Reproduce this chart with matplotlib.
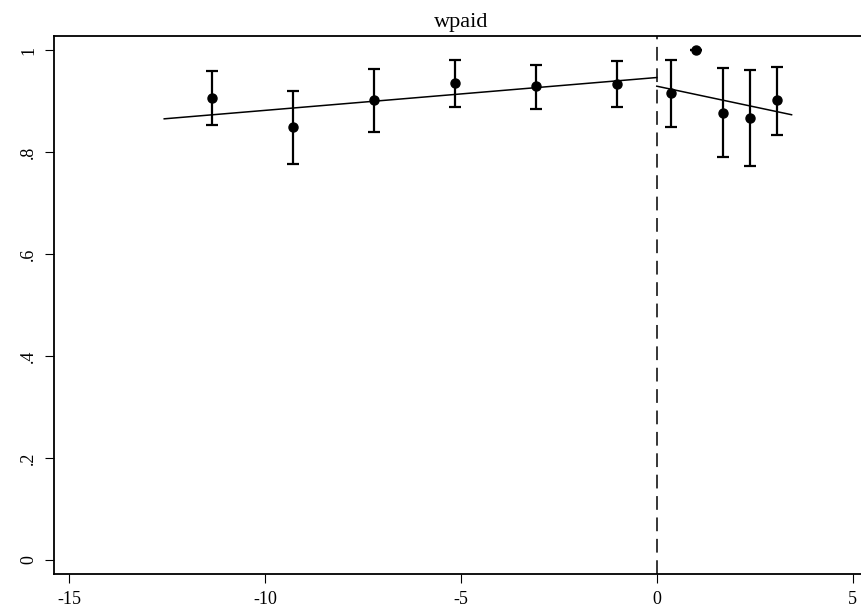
import matplotlib
matplotlib.use("Agg")
import matplotlib.pyplot as plt

plt.rcParams['font.family'] = ['Liberation Serif', 'DejaVu Serif']
plt.rcParams['axes.unicode_minus'] = False  # plain hyphen like the original

# binned means with confidence intervals
x_bins = [-11.35, -9.28, -7.22, -5.14, -3.09, -1.01, 0.36, 1.01, 1.70, 2.38, 3.06]
y_means = [0.906, 0.848, 0.902, 0.936, 0.929, 0.933, 0.916, 1.000, 0.876, 0.867, 0.901]
ci_low = [0.853, 0.776, 0.840, 0.888, 0.884, 0.888, 0.849, 1.000, 0.790, 0.773, 0.834]
ci_high = [0.959, 0.920, 0.963, 0.981, 0.971, 0.978, 0.980, 1.000, 0.964, 0.960, 0.966]

# linear fits on each side of the cutoff
fit_left_x = [-12.57, 0.0]
fit_left_y = [0.865, 0.946]
fit_right_x = [0.0, 3.44]
fit_right_y = [0.929, 0.873]

cutoff = 0
x_ticks = [-15, -10, -5, 0, 5]
y_ticks = [0, 0.2, 0.4, 0.6, 0.8, 1]
y_tick_labels = ['0', '.2', '.4', '.6', '.8', '1']

fig = plt.figure(figsize=(8.61, 6.12), dpi=100)
ax = fig.add_axes([54.3 / 861, 38.3 / 612, (868 - 54.3) / 861, 538 / 612])

yerr = [[m - lo for m, lo in zip(y_means, ci_low)],
        [hi - m for m, hi in zip(y_means, ci_high)]]
ax.errorbar(x_bins, y_means, yerr=yerr, fmt='o', color='black',
            markersize=6.5, elinewidth=1.6, capsize=4.5, capthick=1.6, zorder=3)

ax.plot(fit_left_x, fit_left_y, color='black', linewidth=1.1)
ax.plot(fit_right_x, fit_right_y, color='black', linewidth=1.1)
ax.axvline(cutoff, color='black', linewidth=1.1, linestyle=(0, (9, 5)))

ax.set_xlim(-15.375, 5.39)
ax.set_ylim(-0.027, 1.028)
ax.set_xticks(x_ticks)
ax.set_yticks(y_ticks)
ax.set_yticklabels(y_tick_labels, rotation=90, va='center')
ax.tick_params(axis='both', direction='out', length=6.5, width=0.8,
               labelsize=13, pad=6)

for side in ['left', 'bottom', 'top', 'right']:
    ax.spines[side].set_linewidth(1.3)

ax.set_title('wpaid', fontsize=16, pad=6)

fig.savefig('out.png', dpi=100)
